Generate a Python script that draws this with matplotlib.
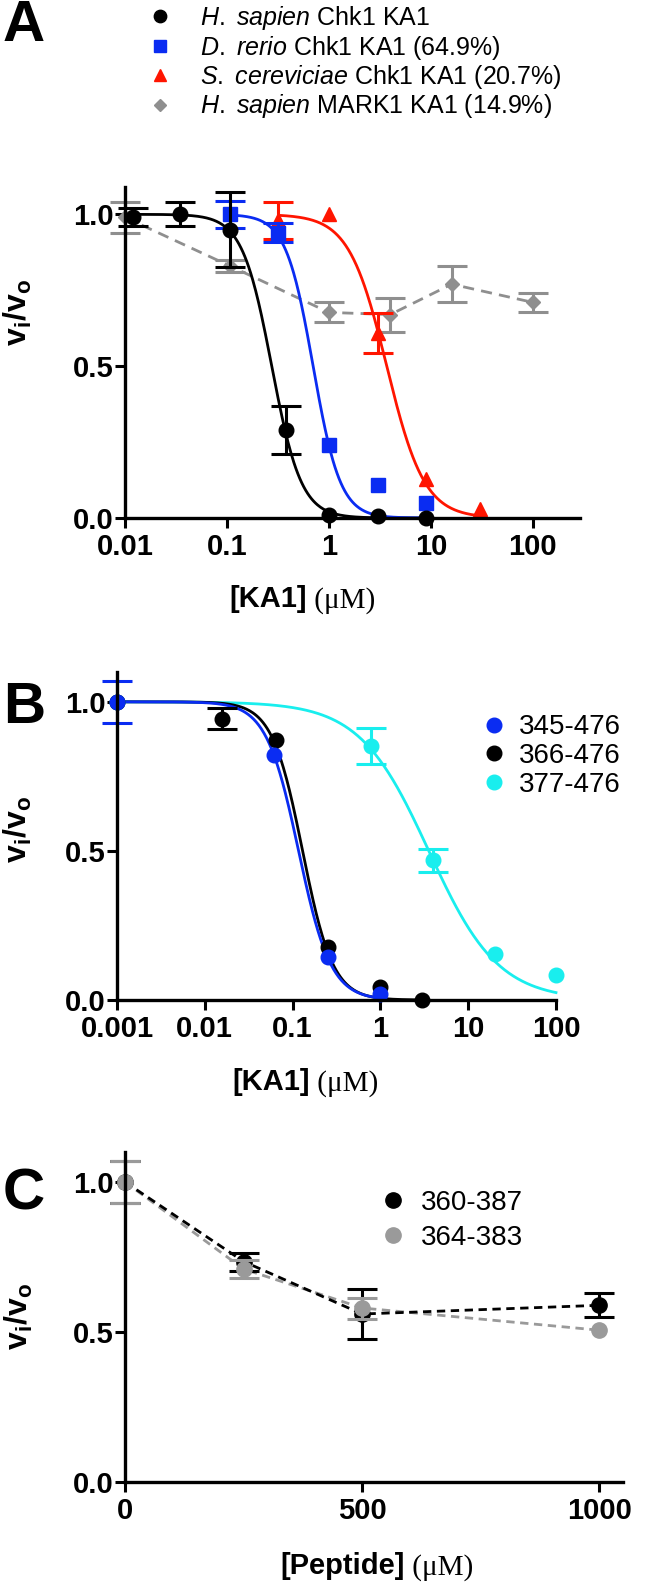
import numpy as np
import matplotlib
matplotlib.use('Agg')
import matplotlib.pyplot as plt

plt.rcParams['font.family'] = ['Liberation Sans', 'DejaVu Sans']
plt.rcParams['mathtext.fontset'] = 'custom'
plt.rcParams['mathtext.rm'] = 'Liberation Sans'
plt.rcParams['mathtext.it'] = 'Liberation Sans:italic'
plt.rcParams['mathtext.bf'] = 'Liberation Sans:bold'

# ---- panel A : KA1 orthologues ----
hs_x = [0.012, 0.035, 0.107, 0.38, 1.0, 3.0, 9.0]
hs_y = [0.99, 1.0, 0.95, 0.29, 0.01, 0.005, 0.0]
hs_e = [0.03, 0.04, 0.125, 0.08, 0, 0, 0]

dr_x = [0.107, 0.32, 1.0, 3.0, 9.0]
dr_y = [1.0, 0.94, 0.24, 0.11, 0.05]
dr_e = [0.045, 0.03, 0, 0, 0]

sc_x = [0.32, 1.0, 3.0, 9.0, 30.0]
sc_y = [0.98, 1.0, 0.61, 0.13, 0.03]
sc_e = [0.06, 0, 0.065, 0, 0]

mk_x = [0.01, 0.107, 1.0, 4.0, 16.0, 100.0]
mk_y = [0.99, 0.83, 0.677, 0.67, 0.77, 0.71]
mk_e = [0.05, 0.02, 0.033, 0.056, 0.06, 0.03]

# fitted IC50 / Hill slope (A: hs, dr, sc)
fitA_ic50 = [0.275, 0.70, 3.69]
fitA_hill = [3.0, 3.25, 2.34]

# ---- panel B : KA1 truncations ----
b1_x = [0.001, 0.062, 0.25, 1.0]            # 345-476
b1_y = [1.0, 0.82, 0.144, 0.02]
b1_e = [0.07, 0, 0, 0]
b2_x = [0.001, 0.0156, 0.064, 0.25, 1.0, 3.0]  # 366-476
b2_y = [1.0, 0.943, 0.873, 0.177, 0.043, 0.0]
b2_e = [0, 0.035, 0, 0, 0, 0]
b3_x = [0.001, 0.79, 4.0, 20.0, 100.0]       # 377-476
b3_y = [1.0, 0.853, 0.468, 0.154, 0.084]
b3_e = [0, 0.06, 0.04, 0, 0]
fitB_ic50 = [0.117, 0.13, 3.56]
fitB_hill = [2.36, 2.5, 1.1]

# ---- panel C : peptides ----
pep_x = [0, 250, 500, 1000]
p1_y = [1.0, 0.735, 0.56, 0.589]   # 360-387
p1_e = [0.07, 0.03, 0.082, 0.04]
p2_y = [1.0, 0.71, 0.58, 0.506]    # 364-383
p2_e = [0.07, 0.03, 0.035, 0]

BLUE = '#0a2cf2'
RED = '#ff1500'
GREY = '#8f8f8f'
CYAN = '#19eeee'
CGREY = '#9a9a9a'


def hill(x, ic50, h):
    return 1.0 / (1.0 + (x / ic50) ** h)


def curve(ax, xs, ic50, h, color):
    xx = np.logspace(np.log10(min(xs)), np.log10(max(xs)), 300)
    ax.plot(xx, hill(xx, ic50, h), color=color, lw=2.0, clip_on=False)


def bars(ax, x, y, e, color):
    x, y, e = np.asarray(x, float), np.asarray(y, float), np.asarray(e, float)
    m = e > 0
    ax.errorbar(x[m], y[m], yerr=e[m], fmt='none', ecolor=color, elinewidth=2.2,
                capsize=11, capthick=2.2, clip_on=False)


def style(ax):
    for s in ['top', 'right']:
        ax.spines[s].set_visible(False)
    for s in ['left', 'bottom']:
        ax.spines[s].set_linewidth(2.4)
    ax.tick_params(width=2.2, length=7, labelsize=21)
    ax.tick_params(axis='x', pad=4)
    ax.tick_params(axis='y', pad=1)
    ax.tick_params(which='minor', length=0)
    for lab in ax.get_xticklabels() + ax.get_yticklabels():
        lab.set_fontweight('bold')


def xlab(ax, bold, xc, y):
    ax.text(xc, y, bold, transform=ax.transAxes, ha='right', va='baseline',
            fontsize=21, fontweight='bold')
    ax.text(xc, y, u' (\u03bcM)', transform=ax.transAxes, ha='left', va='baseline',
            fontsize=21, family='Liberation Serif')


fig = plt.figure(figsize=(6.5, 15.86), dpi=100)
W, H = 650.0, 1586.0


def add_axes(l, r, t, b):
    return fig.add_axes([l / W, 1 - b / H, (r - l) / W, (b - t) / H])


# ---------- A ----------
axA = add_axes(125, 580, 187, 518)
axA.set_xscale('log')
axA.set_xlim(0.01, 290)
axA.set_ylim(0, 1.09)

axA.plot(mk_x, mk_y, color=GREY, lw=2.0, ls=(0, (4, 2.6)), clip_on=False)
bars(axA, mk_x, mk_y, mk_e, GREY)
hm, = axA.plot(mk_x, mk_y, 'D', color=GREY, ms=7, ls='none', clip_on=False)

for xs, ic, h, c in zip([hs_x, dr_x, sc_x], fitA_ic50, fitA_hill, ['black', BLUE, RED]):
    curve(axA, xs, ic, h, c)

bars(axA, sc_x, sc_y, sc_e, RED)
hsc, = axA.plot(sc_x, sc_y, '^', color=RED, ms=10, ls='none', clip_on=False)
bars(axA, dr_x, dr_y, dr_e, BLUE)
hdr, = axA.plot(dr_x, dr_y, 's', color=BLUE, ms=10, ls='none', clip_on=False)
bars(axA, hs_x, hs_y, hs_e, 'black')
hhs, = axA.plot(hs_x, hs_y, 'o', color='black', ms=10.5, ls='none', clip_on=False)

axA.set_xticks([0.01, 0.1, 1, 10, 100])
axA.set_xticklabels(['0.01', '0.1', '1', '10', '100'])
axA.set_yticks([0, 0.5, 1.0])
axA.set_yticklabels(['0.0', '0.5', '1.0'])
style(axA)
axA.set_ylabel(r'$\mathbf{v_i/v_o}$', fontsize=23)
axA.yaxis.set_label_coords(-0.2, 0.62)
xlab(axA, '[KA1]', 0.4, -0.27)

fig.legend([hhs, hdr, hsc, hm],
           [r'$\mathit{H.\ sapien}$ Chk1 KA1',
            r'$\mathit{D.\ rerio}$ Chk1 KA1 (64.9%)',
            r'$\mathit{S.\ cereviciae}$ Chk1 KA1 (20.7%)',
            r'$\mathit{H.\ sapien}$ MARK1 KA1 (14.9%)'],
           loc='upper left', bbox_to_anchor=(147 / W, 1 - 4 / H), frameon=False,
           fontsize=18, handlelength=1.0, handletextpad=1.1, labelspacing=0.06,
           borderaxespad=0, borderpad=0, markerscale=0.85)

# ---------- B ----------
axB = add_axes(117, 556, 672, 1000)
axB.set_xscale('log')
axB.set_xlim(0.001, 100)
axB.set_ylim(0, 1.1)

curve(axB, b3_x, fitB_ic50[2], fitB_hill[2], CYAN)
curve(axB, b2_x, fitB_ic50[1], fitB_hill[1], 'black')
curve(axB, b1_x, fitB_ic50[0], fitB_hill[0], BLUE)
bars(axB, b3_x, b3_y, b3_e, CYAN)
h3, = axB.plot(b3_x, b3_y, 'o', color=CYAN, ms=10.5, ls='none', clip_on=False)
bars(axB, b2_x, b2_y, b2_e, 'black')
h2, = axB.plot(b2_x, b2_y, 'o', color='black', ms=10.5, ls='none', clip_on=False)
bars(axB, b1_x, b1_y, b1_e, BLUE)
h1, = axB.plot(b1_x, b1_y, 'o', color=BLUE, ms=10.5, ls='none', clip_on=False)

axB.set_xticks([0.001, 0.01, 0.1, 1, 10, 100])
axB.set_xticklabels(['0.001', '0.01', '0.1', '1', '10', '100'])
axB.set_yticks([0, 0.5, 1.0])
axB.set_yticklabels(['0.0', '0.5', '1.0'])
style(axB)
axB.set_ylabel(r'$\mathbf{v_i/v_o}$', fontsize=23)
axB.yaxis.set_label_coords(-0.19, 0.52)
xlab(axB, '[KA1]', 0.44, -0.275)
axB.legend([h1, h2, h3], ['345-476', '366-476', '377-476'], loc='upper left',
           bbox_to_anchor=(0.834, 0.871), frameon=False, fontsize=20,
           handlelength=0.8, handletextpad=0.5, labelspacing=0.1,
           borderaxespad=0, borderpad=0)

# ---------- C ----------
axC = add_axes(125, 623, 1152, 1482)
axC.set_xlim(0, 1050)
axC.set_ylim(0, 1.1)
axC.plot(pep_x, p2_y, color=CGREY, lw=2.0, ls=(0, (3, 2)), clip_on=False)
axC.plot(pep_x, p1_y, color='black', lw=2.0, ls=(0, (3, 2)), clip_on=False)
bars(axC, pep_x, p1_y, p1_e, 'black')
c1, = axC.plot(pep_x, p1_y, 'o', color='black', ms=11, ls='none', clip_on=False)
bars(axC, pep_x, p2_y, p2_e, CGREY)
c2, = axC.plot(pep_x, p2_y, 'o', color=CGREY, ms=11, ls='none', clip_on=False)

axC.set_xticks([0, 500, 1000])
axC.set_xticklabels(['0', '500', '1000'])
axC.set_yticks([0, 0.5, 1.0])
axC.set_yticklabels(['0.0', '0.5', '1.0'])
style(axC)
axC.set_ylabel(r'$\mathbf{v_i/v_o}$', fontsize=23)
axC.yaxis.set_label_coords(-0.18, 0.5)
xlab(axC, '[Peptide]', 0.562, -0.28)
axC.legend([c1, c2], ['360-387', '364-383'], loc='upper left',
           bbox_to_anchor=(0.516, 0.885), frameon=False, fontsize=20,
           handlelength=0.8, handletextpad=0.6, labelspacing=0.32,
           borderaxespad=0, borderpad=0)

# panel letters
for letter, yy in [('A', 26), ('B', 708), ('C', 1194)]:
    fig.text(3 / W, 1 - yy / H, letter, fontsize=42, fontweight='bold', va='center', ha='left')

fig.savefig('out.png', dpi=100)
